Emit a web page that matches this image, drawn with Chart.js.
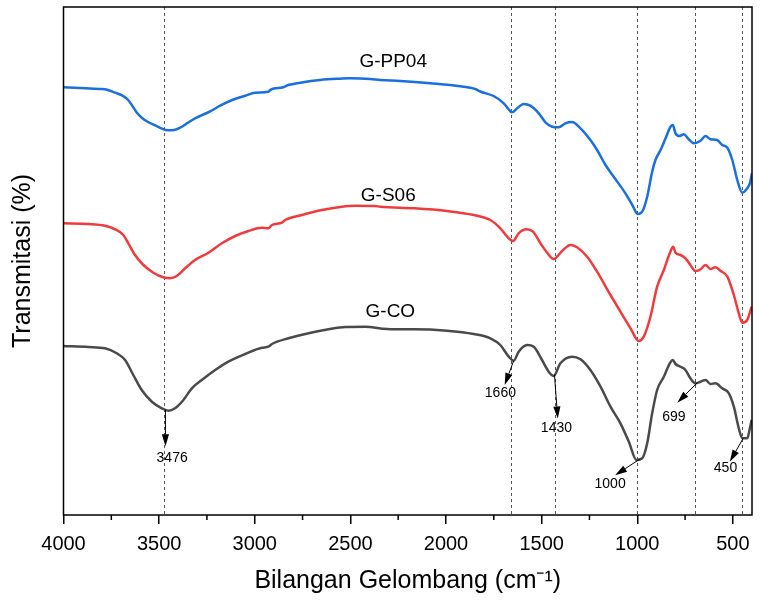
<!DOCTYPE html>
<html><head><meta charset="utf-8">
<script src="https://cdn.jsdelivr.net/npm/chart.js@4"></script>
<style>html,body{margin:0;padding:0;background:#fff;}#wrap{width:761px;height:603px;}</style>
</head><body><div id="wrap"><canvas id="c" width="761" height="603"></canvas></div>
<script>
// ---- data (wavenumber cm^-1, transmittance arbitrary offset units) ----
const seriesNames = ['G-PP04', 'G-S06', 'G-CO'];

const wnPP04 = [4000,3914,3809,3772,3730,3694,3662,3636,3615,3589,3558,3521,3485,3453,3422,3390,3354,3312,3286,3233,3181,3118,3050,2998,2930,2919,2904,2851,2825,2762,2658,2553,2501,2396,2344,2239,2082,1925,1847,1821,1751,1698,1674,1655,1628,1594,1559,1515,1480,1445,1411,1376,1341,1297,1245,1210,1166,1123,1062,1026,997,974,948,922,905,878,852,826,814,800,778,757,731,704,669,643,617,582,556,529,503,477,451,425,411,400];
const tPP04 = [427.7,427,426,425.3,422.3,419.7,415,408,402,397,393,389.7,386.3,384.7,385,387.3,391.7,396.7,399,403.7,409.3,415,419.3,422.3,423.3,425,426.3,427.7,430,432.3,435,436.3,436.7,436,435,434,431.7,428.7,426,423.5,419,411.7,406,402.7,406.7,411,409.3,401.7,392.7,388.3,387.7,391.7,393,386.7,375,365,350,338.3,321.7,310,301,303.3,318.3,343.3,355,365,376.7,388.3,390,381.7,379,380.7,375.7,371.7,374.3,379,375.7,375,370,367.3,355,335,322.3,326.7,331.7,341.7];

const wnS06 = [4000,3870,3783,3730,3687,3661,3626,3582,3530,3478,3443,3408,3364,3312,3242,3172,3102,3033,2963,2928,2910,2858,2841,2753,2649,2544,2474,2370,2344,2169,1995,1855,1768,1716,1672,1649,1620,1580,1545,1506,1471,1437,1393,1350,1315,1262,1210,1140,1088,1035,992,966,931,896,861,830,812,800,774,748,722,696,669,643,617,591,565,529,495,469,451,425,402];
const tS06 = [291.7,291,289.3,285.7,280,271.7,260,250,242.3,237.7,236.7,239,246.7,255,262.3,271.7,279,284,287.3,286.7,290,292.3,295,300,305,308.3,309.3,309,308.3,306.7,304,300,295,286.7,276.7,274,281.7,285.7,283.3,271.7,262.3,256,264,270,267.7,258.3,243.3,220,203.3,186.7,174,178.3,198.3,228.3,245,261.7,268.3,262.3,260,256.7,250,244,245.7,250,246,247.7,244.3,238.3,220,201.7,192.3,195,208.3];

const wnCO = [4000,3870,3783,3722,3678,3635,3591,3538,3486,3452,3417,3373,3329,3277,3207,3138,3050,2963,2928,2910,2824,2719,2614,2527,2422,2335,2291,2169,1995,1855,1768,1716,1672,1646,1620,1576,1541,1498,1463,1437,1402,1341,1297,1245,1192,1140,1088,1044,1004,974,948,922,896,861,830,814,800,774,748,722,696,669,643,617,591,556,521,495,469,451,425,411,402];
const tCO = [169,168,166.7,161.7,155,140,125,113.3,106.7,104.3,106.7,115,126.7,135,145,153.3,161,167.3,168.3,171,176.7,181.7,185.7,188,188.3,186.3,185.7,185.7,184.3,181,176.7,170,158.3,154.3,163.3,170,168.3,155,143.3,139,151.7,158.3,155.7,145,128.3,108.3,91.7,73.3,55,56.7,71.7,101.7,125,138.3,151.7,155,151,148.3,145,136.7,131.7,133.3,135,131,131.7,126.7,121.7,108.3,86.7,76.7,76.7,86.7,95];

const xTickValues = [4000, 3500, 3000, 2500, 2000, 1500, 1000, 500];
const xMinorTickValues = [3750, 3250, 2750, 2250, 1750, 1250, 750];
const peakWavenumbers = [3476, 1660, 1430, 1000, 699, 450];
const peakLabels = ['3476', '1660', '1430', '1000', '699', '450'];
const arrowStartWn = [3467, 1646, 1433, 985, 686, 446];

// ---- styling / placement config ----
const FONT = 'Arial, "Liberation Sans", Helvetica, sans-serif';
const colors = ['#1a6fdc', '#ee3b3e', '#4a4a4a'];
const seriesLabelPos = [[2276, 453], [2302, 319], [2291, 203]];
const arrowVec = [[0, 36.7], [-9, 24.3], [3.3, 44], [-25, 16.3], [-20, 20], [-13.4, 23.4]];
const labelOff = [[6.7, 48], [-13.3, 32], [2, 54], [-30, 25.6], [-23.4, 34.3], [-17.7, 30]];

function pts(xs, ys) { return xs.map((x, i) => ({ x: x, y: ys[i] })); }
function interp(xs, ys, w) {
  for (let i = 0; i < xs.length - 1; i++) {
    const a = xs[i], b = xs[i + 1];
    if ((w <= a && w >= b) || (w >= a && w <= b)) {
      const t = (w - a) / (b - a);
      return ys[i] + t * (ys[i + 1] - ys[i]);
    }
  }
  return ys[ys.length - 1];
}

const annotPlugin = {
  id: 'ftirAnnot',
  beforeDatasetsDraw(chart) {
    const { ctx, chartArea: a, scales: { x } } = chart;
    ctx.save();
    ctx.strokeStyle = '#555';
    ctx.lineWidth = 1;
    ctx.setLineDash([3, 3]);
    peakWavenumbers.forEach(w => {
      const px = Math.round(x.getPixelForValue(w)) + 0.5;
      ctx.beginPath(); ctx.moveTo(px, a.top); ctx.lineTo(px, a.bottom); ctx.stroke();
    });
    ctx.restore();
  },
  afterDatasetsDraw(chart) {
    const { ctx, chartArea: a, scales: { x, y } } = chart;
    ctx.save();
    // frame
    ctx.strokeStyle = '#000';
    ctx.lineWidth = 1.5;
    ctx.strokeRect(a.left, a.top, a.right - a.left, a.bottom - a.top);
    // minor ticks
    ctx.lineWidth = 1.5;
    xMinorTickValues.forEach(v => {
      const px = x.getPixelForValue(v);
      ctx.beginPath(); ctx.moveTo(px, a.bottom); ctx.lineTo(px, a.bottom + 5); ctx.stroke();
    });
    // series labels
    ctx.fillStyle = '#000';
    ctx.font = '19px ' + FONT;
    ctx.textAlign = 'center';
    ctx.textBaseline = 'middle';
    seriesNames.forEach((n, i) => {
      ctx.fillText(n, x.getPixelForValue(seriesLabelPos[i][0]), y.getPixelForValue(seriesLabelPos[i][1]));
    });
    // peak arrows and labels (on G-CO curve)
    ctx.font = '14px ' + FONT;
    ctx.lineWidth = 1;
    arrowStartWn.forEach((w, i) => {
      const x0 = x.getPixelForValue(w);
      const y0 = y.getPixelForValue(interp(wnCO, tCO, w));
      const x1 = x0 + arrowVec[i][0], y1 = y0 + arrowVec[i][1];
      const ang = Math.atan2(y1 - y0, x1 - x0);
      const hl = 12, hw = 3.6;
      const bx = x1 - hl * Math.cos(ang), by = y1 - hl * Math.sin(ang);
      ctx.beginPath(); ctx.moveTo(x0, y0); ctx.lineTo(bx, by); ctx.stroke();
      ctx.beginPath();
      ctx.moveTo(x1, y1);
      ctx.lineTo(bx + hw * Math.sin(ang), by - hw * Math.cos(ang));
      ctx.lineTo(bx - hw * Math.sin(ang), by + hw * Math.cos(ang));
      ctx.closePath(); ctx.fill();
      ctx.fillText(peakLabels[i], x0 + labelOff[i][0], y0 + labelOff[i][1]);
    });
    ctx.restore();
  }
};

const datasets = [[wnPP04, tPP04], [wnS06, tS06], [wnCO, tCO]].map((d, i) => ({
  label: seriesNames[i],
  data: pts(d[0], d[1]),
  borderColor: colors[i],
  borderWidth: 2.5,
  pointRadius: 0,
  fill: false,
  cubicInterpolationMode: 'monotone'
}));

new Chart(document.getElementById('c'), {
  type: 'line',
  data: { datasets: datasets },
  options: {
    responsive: false,
    animation: false,
    devicePixelRatio: 1,
    layout: { padding: { left: 0, right: 9, top: 7, bottom: 0 } },
    plugins: { legend: { display: false }, tooltip: { enabled: false } },
    scales: {
      x: {
        type: 'linear', reverse: true, min: 400, max: 4000,
        afterBuildTicks: s => { s.ticks = xTickValues.map(v => ({ value: v })); },
        afterFit: s => { s.height = 88; },
        grid: { display: true, drawOnChartArea: false, drawTicks: true, tickLength: 9, color: '#000', lineWidth: 1.5 },
        border: { display: false },
        ticks: { font: { family: FONT, size: 20 }, color: '#000', padding: 8, maxRotation: 0, autoSkip: false, callback: v => String(v) },
        title: { display: true, text: 'Bilangan Gelombang (cm⁻¹)', font: { family: FONT, size: 25, lineHeight: 1 }, color: '#000', padding: { top: 0, bottom: 9 } }
      },
      y: {
        type: 'linear', min: 0, max: 508,
        afterFit: s => { s.width = 63.5; },
        grid: { display: false },
        border: { display: false },
        ticks: { display: false },
        title: { display: true, text: 'Transmitasi (%)', font: { family: FONT, size: 25, lineHeight: 1 }, color: '#000', padding: { top: 11, bottom: 0 } }
      }
    }
  },
  plugins: [annotPlugin]
});
</script></body></html>
